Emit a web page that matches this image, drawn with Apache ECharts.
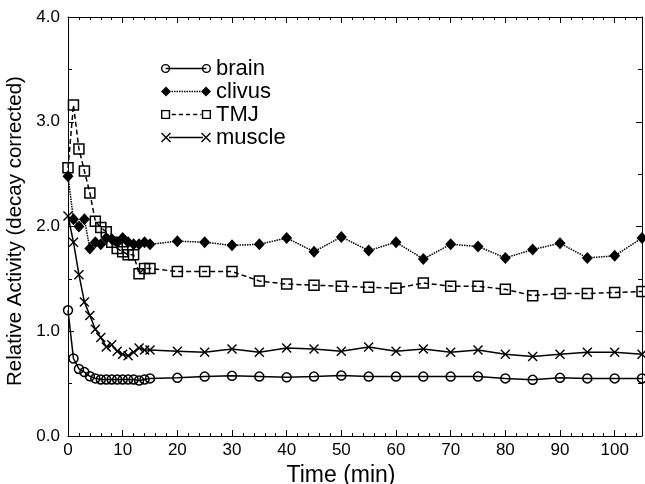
<!DOCTYPE html>
<html><head><meta charset="utf-8">
<script src="https://cdn.jsdelivr.net/npm/echarts@6/dist/echarts.min.js"></script>
<style>html,body{margin:0;padding:0;background:#fff}#c{width:645px;height:484px}</style>
</head><body><div id="c"></div>
<script>
const timeEarly = [0,1,2,3,4,5,6,7,8,9,10,11,12,13,14,15];
const timeLate = [20,25,30,35,40,45,50,55,60,65,70,75,80,85,90,95,100,105];
const brainEarly = [1.20,0.74,0.64,0.61,0.57,0.55,0.54,0.54,0.54,0.54,0.54,0.54,0.54,0.53,0.54,0.55];
const brainLate = [0.555,0.567,0.574,0.567,0.56,0.567,0.577,0.567,0.567,0.567,0.567,0.567,0.55,0.536,0.555,0.55,0.55,0.55];
const clivusEarly = [2.48,2.07,2.00,2.07,1.79,1.85,1.83,1.89,1.88,1.85,1.89,1.85,1.83,1.83,1.85,1.83];
const clivusLate = [1.86,1.85,1.82,1.83,1.89,1.76,1.90,1.77,1.85,1.69,1.83,1.81,1.70,1.78,1.84,1.70,1.72,1.89];
const tmjEarly = [2.56,3.16,2.74,2.53,2.32,2.05,1.99,1.95,1.85,1.79,1.76,1.73,1.73,1.55,1.60,1.60];
const tmjLate = [1.57,1.57,1.57,1.48,1.45,1.44,1.43,1.42,1.41,1.46,1.43,1.43,1.40,1.34,1.36,1.36,1.37,1.38];
const muscleEarly = [2.10,1.85,1.54,1.28,1.15,1.02,0.94,0.85,0.87,0.81,0.78,0.765,0.80,0.84,0.82,0.82];
const muscleLate = [0.81,0.80,0.83,0.80,0.84,0.83,0.81,0.85,0.81,0.83,0.80,0.82,0.78,0.76,0.78,0.80,0.80,0.78];
const seriesNames = ['brain','clivus','TMJ','muscle'];
const yTicks = ['0.0','1.0','2.0','3.0','4.0'];

function pairs(ta, va, tb, vb){ const out=[]; ta.forEach((t,i)=>out.push([t,va[i]])); tb.forEach((t,i)=>out.push([t,vb[i]])); return out; }
const X_PATH = 'path://M0,1L1,0L5,4L9,0L10,1L6,5L10,9L9,10L5,6L1,10L0,9L4,5Z';
const FONT = 'Liberation Sans';

// legend icons (50 x 10 box): a line sample with a marker at each end
function ring(cx){ return 'M'+(cx-4.5)+',5A4.5,4.5 0 1,1 '+(cx+4.5)+',5A4.5,4.5 0 1,1 '+(cx-4.5)+',5Z'+
  'M'+(cx-3.1)+',5A3.1,3.1 0 1,0 '+(cx+3.1)+',5A3.1,3.1 0 1,0 '+(cx-3.1)+',5Z'; }
function box(cx){ return 'M'+(cx-4.5)+',0.5L'+(cx+4.5)+',0.5L'+(cx+4.5)+',9.5L'+(cx-4.5)+',9.5Z'+
  'M'+(cx-3.1)+',1.9L'+(cx-3.1)+',8.1L'+(cx+3.1)+',8.1L'+(cx+3.1)+',1.9Z'; }
function diamond(cx){ return 'M'+cx+',0L'+(cx+5)+',5L'+cx+',10L'+(cx-5)+',5Z'; }
function cross(cx){ const x=cx-5; return 'M'+x+',1L'+(x+1)+',0L'+(x+5)+',4L'+(x+9)+',0L'+(x+10)+',1L'+(x+6)+',5L'+(x+10)+',9L'+(x+9)+',10L'+(x+5)+',6L'+(x+1)+',10L'+x+',9L'+(x+4)+',5Z'; }
function seg(a,b){ return 'M'+a+',4.3L'+b+',4.3L'+b+',5.7L'+a+',5.7Z'; }
function dashes(a,b,d,g){ let s=''; for(let x=a;x<b;x+=d+g){ s+=seg(x,Math.min(x+d,b)); } return s; }
const legendIcons = {
  brain: 'path://'+ring(5)+ring(45)+seg(5,45),
  clivus: 'path://'+diamond(5)+diamond(45)+dashes(8,42,1.5,1),
  TMJ: 'path://'+box(5)+box(45)+dashes(11,40,4,3),
  muscle: 'path://'+cross(5)+cross(45)+seg(8,42)
};

const chart = echarts.init(document.getElementById('c'), null, {renderer:'canvas'});
function axisStyle(minorSplit, minorLen){
  return {
    axisLine:{show:true,onZero:false,lineStyle:{color:'#000',width:1}},
    axisTick:{show:true,inside:true,length:6,lineStyle:{color:'#000'}},
    minorTick:{show:true,splitNumber:minorSplit,length:minorLen,lineStyle:{color:'#000'}},
    splitLine:{show:false}, minorSplitLine:{show:false}
  };
}
chart.setOption({
  animation:false,
  backgroundColor:'#fff',
  grid:{left:68,right:3,top:17,bottom:48,containLabel:false,outerBoundsMode:'none'},
  legend:{
    data:seriesNames.map(n=>({name:n,icon:legendIcons[n],itemStyle:{color:'#000',borderWidth:0,borderColor:'rgba(0,0,0,0)'}})),
    orient:'vertical', left:161, top:57, padding:0, itemGap:0, itemWidth:50, itemHeight:10,
    textStyle:{fontFamily:FONT,fontSize:22,lineHeight:23,color:'#000'}
  },
  xAxis:[
    Object.assign({type:'value',min:0,max:105,interval:10,position:'bottom',
      name:'Time (min)',nameLocation:'middle',nameGap:24,
      nameTextStyle:{fontFamily:FONT,fontSize:23,color:'#000',padding:[0,28,0,0]},
      axisLabel:{fontFamily:FONT,fontSize:17,color:'#000',margin:6,showMaxLabel:false,
        formatter:v=> (v%10===0 && v<=100)? String(v):''}}, axisStyle(5,3)),
    Object.assign({type:'value',min:0,max:105,interval:10,position:'top',axisLabel:{show:false}}, axisStyle(5,3))
  ],
  yAxis:[
    Object.assign({type:'value',min:0,max:4,interval:1,position:'left',
      name:'Relative Activity (decay corrected)',nameLocation:'middle',nameGap:36,
      nameTextStyle:{fontFamily:FONT,fontSize:20.5,color:'#000',padding:[0,9,0,0]},
      axisLabel:{fontFamily:FONT,fontSize:17,color:'#000',margin:8,formatter:v=>yTicks[Math.round(v)]}},
      axisStyle(2,4)),
    Object.assign({type:'value',min:0,max:4,interval:1,position:'right',axisLabel:{show:false}}, axisStyle(2,4))
  ],
  series:[
    {name:'brain',type:'line',data:pairs(timeEarly,brainEarly,timeLate,brainLate),
     symbol:'circle',symbolSize:9,itemStyle:{color:'rgba(255,255,255,0)',borderColor:'#000',borderWidth:1.5},
     lineStyle:{color:'#000',width:1.5,type:'solid'},z:4},
    {name:'clivus',type:'line',data:pairs(timeEarly,clivusEarly,timeLate,clivusLate),
     symbol:'diamond',symbolSize:[11,12],itemStyle:{color:'#000',borderColor:'#000',borderWidth:0},
     lineStyle:{color:'#000',width:1.5,type:[1.5,1]},z:3},
    {name:'TMJ',type:'line',data:pairs(timeEarly,tmjEarly,timeLate,tmjLate),
     symbol:'rect',symbolSize:10,itemStyle:{color:'rgba(255,255,255,0)',borderColor:'#000',borderWidth:1.5},
     lineStyle:{color:'#000',width:1.5,type:[5,3]},z:2},
    {name:'muscle',type:'line',data:pairs(timeEarly,muscleEarly,timeLate,muscleLate),
     symbol:X_PATH,symbolSize:10,itemStyle:{color:'#000'},
     lineStyle:{color:'#000',width:1.5,type:'solid'},z:5}
  ]
});
</script></body></html>
